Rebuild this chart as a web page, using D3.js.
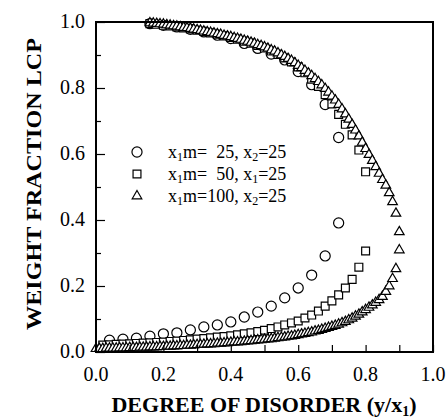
<!DOCTYPE html>
<html><head><meta charset="utf-8">
<script src="https://cdn.jsdelivr.net/npm/d3@7"></script>
<style>
body{margin:0;background:#fff;}
svg{display:block;font-family:"Liberation Serif","Times New Roman",serif;}
</style></head>
<body><svg id="c" width="448" height="418"></svg>
<script>
// ---- data ----
const xTicks = [0.0, 0.2, 0.4, 0.6, 0.8, 1.0];
const yTicks = [0.0, 0.2, 0.4, 0.6, 0.8, 1.0];
const legendLabels = [
  ["x", "1", "m=  25, x", "2", "=25"],
  ["x", "1", "m=  50, x", "1", "=25"],
  ["x", "1", "m=100, x", "2", "=25"]
];

// x1m = 25 (circles)
const circLowerX = [0.04,0.08,0.12,0.16,0.20,0.24,0.28,0.32,0.36,0.40,0.44,0.48,0.52,0.56,0.60,0.64,0.68,0.72];
const circLowerY = [0.036,0.039,0.042,0.048,0.055,0.058,0.067,0.076,0.082,0.091,0.106,0.121,0.139,0.164,0.194,0.233,0.291,0.391];
const circUpperX = [0.16,0.20,0.24,0.28,0.32,0.36,0.40,0.44,0.48,0.52,0.56,0.60,0.64,0.68,0.72];
const circUpperY = [0.995,0.990,0.985,0.978,0.970,0.960,0.950,0.935,0.920,0.903,0.885,0.850,0.810,0.750,0.650];

// x1m = 50 (squares)
const sqLowerX = [0.02,0.04,0.06,0.08,0.10,0.12,0.14,0.16,0.18,0.20,0.22,0.24,0.26,0.28,0.30,0.32,0.34,0.36,0.38,0.40,
                  0.42,0.44,0.46,0.48,0.50,0.52,0.54,0.56,0.58,0.60,0.62,0.64,0.66,0.68,0.70,0.72,0.74,0.76,0.78,0.80];
const sqLowerY = [0.021,0.022,0.023,0.024,0.025,0.026,0.027,0.028,0.029,0.030,0.032,0.033,0.035,0.037,0.039,0.041,0.043,0.045,0.047,0.049,
                  0.052,0.055,0.058,0.062,0.066,0.071,0.076,0.082,0.088,0.094,0.103,0.112,0.124,0.139,0.155,0.173,0.194,0.220,0.257,0.306];
const sqUpperX = [0.16,0.18,0.20,0.22,0.24,0.26,0.28,0.30,0.32,0.34,0.36,0.38,0.40,0.42,0.44,0.46,0.48,0.50,
                  0.52,0.54,0.56,0.58,0.60,0.62,0.64,0.66,0.68,0.70,0.72,0.74,0.76,0.78,0.80];
const sqUpperY = [0.995,0.993,0.990,0.988,0.985,0.982,0.979,0.975,0.971,0.967,0.963,0.958,0.953,0.948,0.942,0.936,0.929,0.921,
                  0.912,0.902,0.891,0.879,0.864,0.846,0.827,0.805,0.780,0.752,0.720,0.690,0.658,0.612,0.546];

// x1m = 100 (triangles), x from 0.00 (lower) / 0.16 (upper) to 0.90 every 0.01
const triLowerX0 = 0.00, triUpperX0 = 0.16, triStep = 0.01;
const triLowerY = [
  0.010,0.010,0.010,0.011,0.011,0.011,0.011,0.012,0.012,0.012,
  0.013,0.013,0.013,0.014,0.014,0.014,0.015,0.015,0.015,0.016,
  0.016,0.017,0.017,0.018,0.018,0.019,0.019,0.020,0.020,0.021,
  0.022,0.022,0.023,0.024,0.024,0.025,0.026,0.026,0.027,0.028,
  0.029,0.030,0.030,0.031,0.032,0.033,0.034,0.035,0.036,0.037,
  0.038,0.039,0.040,0.041,0.043,0.044,0.045,0.047,0.048,0.050,
  0.052,0.054,0.056,0.058,0.060,0.063,0.065,0.068,0.071,0.074,
  0.077,0.080,0.084,0.088,0.092,0.097,0.102,0.108,0.114,0.121,
  0.128,0.135,0.142,0.150,0.158,0.168,0.183,0.200,0.222,0.252,0.309];
const triUpperY = [
  0.997,0.996,0.995,0.994,
  0.993,0.991,0.990,0.988,0.987,0.985,0.983,0.982,0.980,0.978,
  0.976,0.974,0.972,0.970,0.968,0.966,0.964,0.962,0.959,0.957,
  0.955,0.952,0.950,0.947,0.944,0.941,0.938,0.935,0.931,0.928,
  0.924,0.920,0.915,0.911,0.906,0.900,0.895,0.889,0.883,0.876,
  0.868,0.861,0.853,0.845,0.837,0.828,0.819,0.809,0.798,0.787,
  0.775,0.763,0.750,0.736,0.721,0.705,0.689,0.672,0.654,0.635,
  0.616,0.598,0.580,0.561,0.541,0.522,0.505,0.482,0.455,0.420,0.364];

// ---- drawing ----
const svg = d3.select("#c");
const L = 96, R = 433, T = 22, B = 352;
const x = d3.scaleLinear().domain([0, 1]).range([L, R]);
const y = d3.scaleLinear().domain([0, 1]).range([B, T]);

const pts = (xs, ys) => xs.map((v, i) => [v, ys[i]]);
const triLower = triLowerY.map((v, i) => [+(triLowerX0 + i * triStep).toFixed(2), v]);
const triUpper = triUpperY.map((v, i) => [+(triUpperX0 + i * triStep).toFixed(2), v]);

const g = svg.append("g");
function drawSet(data, type, size) {
  g.selectAll(null).data(data).enter().append("path")
    .attr("d", d3.symbol().type(type).size(size))
    .attr("transform", d => `translate(${x(d[0])},${y(d[1])})`)
    .attr("fill", "#fff").attr("stroke", "#000").attr("stroke-width", 1.2);
}
drawSet(pts(circLowerX, circLowerY), d3.symbolCircle, 80);
drawSet(pts(circUpperX, circUpperY), d3.symbolCircle, 80);
drawSet(pts(sqLowerX, sqLowerY), d3.symbolSquare, 62);
drawSet(pts(sqUpperX, sqUpperY), d3.symbolSquare, 62);
drawSet(triLower, d3.symbolTriangle, 40);
drawSet(triUpper, d3.symbolTriangle, 40);

// axes (ticks inward, left and bottom only)
const xAxisMinor = d3.axisBottom(x).tickValues(d3.range(0, 11).map(i => i / 10)).tickSize(-7).tickFormat("");
svg.append("g").attr("transform", `translate(0,${B})`).call(xAxisMinor)
  .call(a => a.select(".domain").remove()).selectAll("line").attr("stroke-width", 1.2);
const yAxisMajor = d3.axisLeft(y).tickValues(yTicks).tickSize(-9).tickFormat("");
svg.append("g").attr("transform", `translate(${L},0)`).call(yAxisMajor)
  .call(a => a.select(".domain").remove()).selectAll("line").attr("stroke-width", 1.2);
const yAxisMinor = d3.axisLeft(y).tickValues([0.1,0.3,0.5,0.7,0.9]).tickSize(-5).tickFormat("");
svg.append("g").attr("transform", `translate(${L},0)`).call(yAxisMinor)
  .call(a => a.select(".domain").remove()).selectAll("line").attr("stroke-width", 1.2);

// frame
svg.append("rect").attr("x", L).attr("y", T).attr("width", R - L).attr("height", B - T)
  .attr("fill", "none").attr("stroke", "#000").attr("stroke-width", 2);

// tick labels
svg.append("g").selectAll("text").data(xTicks).enter().append("text")
  .attr("x", d => x(d)).attr("y", 381).attr("text-anchor", "middle")
  .attr("font-size", 20).text(d => d.toFixed(1));
svg.append("g").selectAll("text").data(yTicks).enter().append("text")
  .attr("x", 85).attr("y", d => y(d) + 6).attr("text-anchor", "end")
  .attr("font-size", 20).text(d => d.toFixed(1));

// axis titles
svg.append("text").attr("x", 264).attr("y", 412).attr("text-anchor", "middle")
  .attr("font-size", 22).attr("font-weight", "bold")
  .call(t => {
    t.append("tspan").text("DEGREE OF DISORDER (y/x");
    t.append("tspan").attr("font-size", 14).attr("dy", 4).text("1");
    t.append("tspan").attr("dy", -4).text(")");
  });
svg.append("text").attr("transform", "translate(41,184) rotate(-90)")
  .attr("text-anchor", "middle").attr("font-size", 21).attr("font-weight", "bold")
  .attr("textLength", 292).attr("lengthAdjust", "spacingAndGlyphs")
  .text("WEIGHT FRACTION LCP");

// legend
const legTypes = [[d3.symbolCircle, 80], [d3.symbolSquare, 62], [d3.symbolTriangle, 40]];
const legY = [152, 174, 196];
legendLabels.forEach((parts, i) => {
  svg.append("path").attr("d", d3.symbol().type(legTypes[i][0]).size(legTypes[i][1]))
    .attr("transform", `translate(137,${legY[i]})`)
    .attr("fill", "#fff").attr("stroke", "#000").attr("stroke-width", 1.2);
  const t = svg.append("text").attr("x", 168).attr("y", legY[i] + 6)
    .attr("font-size", 18).style("white-space", "pre");
  t.append("tspan").text(parts[0]);
  t.append("tspan").attr("font-size", 12).attr("dy", 3).text(parts[1]);
  t.append("tspan").attr("dy", -3).text(parts[2]);
  t.append("tspan").attr("font-size", 12).attr("dy", 3).text(parts[3]);
  t.append("tspan").attr("dy", -3).text(parts[4]);
});
</script></body></html>
